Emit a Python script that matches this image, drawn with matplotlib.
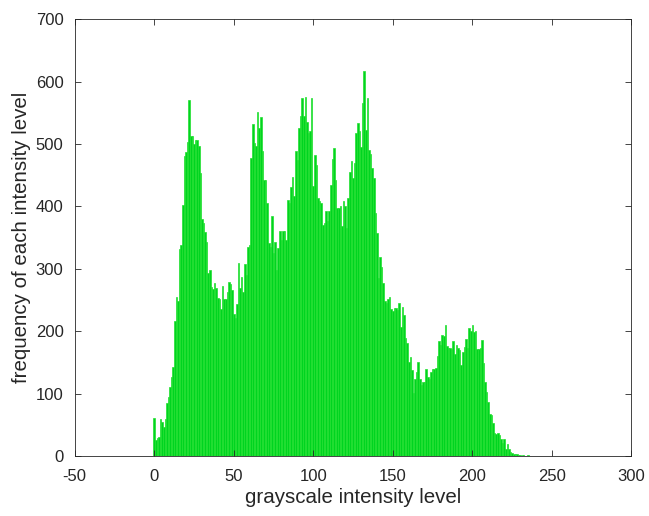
import matplotlib
matplotlib.use("Agg")
import matplotlib.pyplot as plt
import numpy as np

levels = list(range(256))
counts = [
    61, 26, 29, 31, 59, 55, 47, 59, 85, 95,
    111, 127, 143, 216, 255, 249, 331, 338, 403, 480,
    487, 503, 570, 512, 512, 500, 507, 507, 497, 453,
    380, 373, 359, 343, 294, 298, 271, 267, 278, 269,
    253, 251, 235, 272, 251, 251, 263, 279, 276, 266,
    228, 221, 244, 309, 270, 287, 263, 308, 290, 335,
    338, 477, 532, 501, 496, 551, 525, 543, 488, 442,
    442, 405, 341, 335, 384, 326, 343, 298, 333, 361,
    346, 361, 361, 346, 411, 405, 431, 447, 416, 488,
    475, 525, 545, 573, 544, 576, 535, 517, 520, 573,
    432, 483, 467, 413, 409, 405, 370, 373, 393, 377,
    392, 434, 476, 494, 442, 398, 398, 400, 369, 409,
    401, 366, 414, 455, 473, 445, 470, 518, 533, 520,
    495, 565, 617, 522, 573, 490, 484, 461, 445, 389,
    358, 285, 319, 303, 277, 249, 245, 251, 255, 235,
    233, 237, 238, 234, 245, 207, 239, 226, 189, 182,
    151, 159, 138, 101, 124, 135, 150, 124, 114, 118,
    119, 139, 126, 123, 135, 139, 139, 141, 160, 185,
    178, 194, 192, 210, 176, 174, 174, 171, 184, 164,
    178, 173, 170, 146, 167, 175, 187, 173, 206, 201,
    210, 199, 201, 171, 171, 173, 186, 149, 118, 103,
    87, 67, 66, 53, 37, 36, 37, 34, 27, 21,
    27, 11, 20, 12, 7, 5, 4, 3, 4, 2,
    2, 1, 2, 1, 1, 2, 1, 1, 0, 1,
    1, 0, 1, 1, 0, 1, 0, 1, 1, 0,
    1, 0, 1, 0, 1, 1,
]

xticks = [-50, 0, 50, 100, 150, 200, 250, 300]
yticks = [0, 100, 200, 300, 400, 500, 600, 700]

plt.rcParams['font.family'] = ['Liberation Sans', 'DejaVu Sans']
plt.rcParams['axes.unicode_minus'] = False

fig = plt.figure(figsize=(6.49, 5.16), dpi=100)
ax = fig.add_axes([0.115, 0.116, 0.858, 0.847])

ax.bar(levels, counts, width=1.0, color='#00d420', edgecolor='#22e030', linewidth=0.5)

ax.set_xlim(-50, 300)
ax.set_ylim(0, 700)
ax.set_xticks(xticks)
ax.set_yticks(yticks)
ax.tick_params(direction='in', top=True, right=True, length=4, width=0.6,
               colors='#262626', labelsize=12)
ax.tick_params(axis='x', pad=9)
ax.tick_params(axis='y', pad=8)
for s in ax.spines.values():
    s.set_color('#262626')
    s.set_linewidth(0.6)

ax.set_xlabel('grayscale intensity level', fontsize=14.8, color='#262626', labelpad=3)
ax.set_ylabel('frequency of each intensity level', fontsize=14.8, color='#262626', labelpad=3)

fig.savefig('out.png', dpi=100)
